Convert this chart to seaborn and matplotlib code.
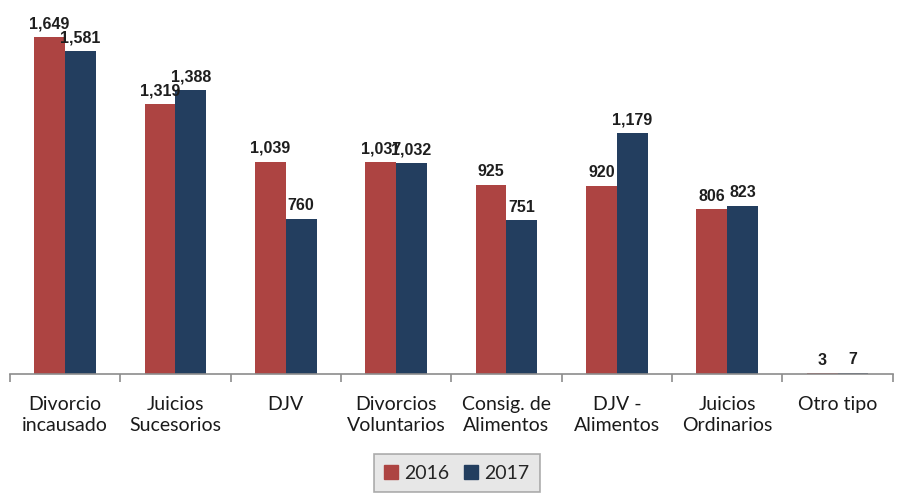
import numpy as np
import matplotlib
matplotlib.use("Agg")
import matplotlib.pyplot as plt
import pandas as pd
import seaborn as sns

categories = ["Divorcio\nincausado", "Juicios\nSucesorios", "DJV", "Divorcios\nVoluntarios",
              "Consig. de\nAlimentos", "DJV -\nAlimentos", "Juicios\nOrdinarios", "Otro tipo"]
vals_2016 = [1649, 1319, 1039, 1037, 925, 920, 806, 3]
vals_2017 = [1581, 1388, 760, 1032, 751, 1179, 823, 7]
years = ["2016", "2017"]
colors = ["#AD4442", "#233E5F"]

df = pd.DataFrame({
    "cat": categories * 2,
    "year": [years[0]] * len(categories) + [years[1]] * len(categories),
    "n": vals_2016 + vals_2017,
})

sns.set_style("white")
label_font = ["Lato", "DejaVu Sans"]

fig = plt.figure(figsize=(8.99, 4.96), dpi=100)
ax = fig.add_axes([0.011, 0.246, 0.982, 0.742])

sns.barplot(data=df, x="cat", y="n", hue="year", palette=colors, width=0.56,
            saturation=1, linewidth=0, ax=ax, legend=False)

for cont in ax.containers:
    ax.bar_label(cont, labels=[f"{v:,.0f}" for v in cont.datavalues], padding=4,
                 fontsize=11.5, fontweight="bold", color="#1e1e1e",
                 family=["Liberation Sans", "DejaVu Sans"])

ax.set_ylim(0, 1800)
ax.set_xlim(-0.5, len(categories) - 0.5)
ax.set_xlabel("")
ax.set_ylabel("")
ax.set_yticks([])
for s in ["top", "right", "left"]:
    ax.spines[s].set_visible(False)
ax.spines["bottom"].set_color("#8c8c8c")
ax.spines["bottom"].set_linewidth(1.2)

ax.set_xticks(range(len(categories)))
ax.set_xticklabels(categories, fontsize=14, family=label_font, color="#1a1a1a",
                   linespacing=1.3)
ax.tick_params(axis="x", which="major", length=0, pad=16)
ax.set_xticks(np.arange(-0.5, len(categories), 1), minor=True)
ax.tick_params(axis="x", which="minor", length=6, color="#8c8c8c", width=1.2, bottom=True)

handles = [plt.Rectangle((0, 0), 1, 1, color=c) for c in colors]
leg = fig.legend(handles, years, loc="center", bbox_to_anchor=(0.508, 0.046), ncol=2,
                 frameon=True, fancybox=False, facecolor="#E2E2E2", edgecolor="#9a9a9a",
                 handlelength=0.7, handleheight=0.7, handletextpad=0.3, columnspacing=0.8,
                 prop={"family": label_font, "size": 14}, borderpad=0.55)
leg.get_frame().set_linewidth(1.2)

fig.savefig("out.png", dpi=100)
